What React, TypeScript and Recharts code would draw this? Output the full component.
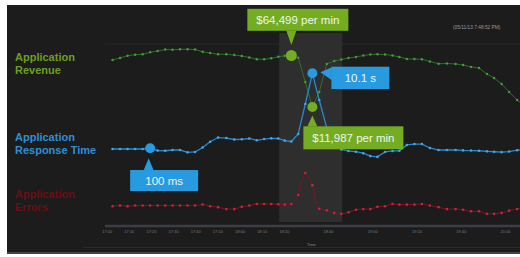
import React from 'react';
import { ComposedChart, Line, Area, XAxis, YAxis, CartesianGrid, ReferenceArea, ReferenceDot } from 'recharts';

// sample times, minutes after 17:00
const minutes = [2.4, 5.8, 9.2, 12.6, 16.0, 19.4, 22.8, 26.2, 29.5, 32.9, 36.3, 39.7, 43.1, 46.5, 50.1, 53.8, 57.4, 60.8, 64.2, 67.6, 70.9, 74.1, 77.3, 80.2, 83.2, 86.3, 89.5, 92.7, 95.8, 99.2, 102.6, 105.8, 109.0, 112.4, 115.7, 118.9, 122.1, 125.5, 128.9, 132.0, 135.4, 138.8, 142.2, 145.8, 149.7, 153.5, 157.4, 160.8, 164.4, 168.0, 171.6, 174.8, 178.2, 181.6, 185.2, 188.6];

// $ per min
const revenue = [62050, 64180, 66630, 67690, 68120, 70250, 71630, 73230, 72910, 73440, 73440, 73230, 70780, 69500, 68120, 68120, 67370, 66310, 64710, 62900, 62800, 63860, 65460, 66520, 66840, 64499, 38620, 11987, 27970, 57790, 60980, 62580, 64180, 65250, 66840, 67910, 68120, 67910, 66840, 65250, 63120, 63120, 62800, 60450, 58110, 58320, 57790, 56730, 54600, 53530, 47140, 42880, 36490, 27970, 19450, 13060];

// ms
const responseTime = [96, 96, 96, 96, 96, 100, 87, 86, 90, 90, 78, 80, 105, 150, 194, 188, 172, 174, 183, 164, 177, 185, 183, 160, 152, 241, 1528, 10100, 1954, 349, 115, 93, 85, 81, 74, 62, 59, 80, 85, 86, 123, 130, 130, 102, 90, 90, 90, 88, 87, 86, 83, 81, 79, 82, 89, 93];

// errors per min
const errors = [6.2, 6.4, 6.2, 6.4, 6.4, 6.4, 6.4, 6.4, 6.4, 6.4, 6.4, 6.4, 6.7, 6.2, 5.9, 5.3, 5.3, 6.0, 6.4, 6.9, 6.9, 6.9, 6.8, 6.7, 6.9, 9.7, 16.6, 12.8, 5.4, 4.9, 4.1, 3.8, 4.3, 5.1, 5.3, 5.3, 6.0, 6.2, 6.9, 6.7, 6.7, 6.7, 6.9, 6.4, 5.9, 5.3, 5.3, 5.1, 4.6, 4.6, 3.8, 3.8, 4.1, 4.8, 5.3, 5.8];

const timeTicks = [0, 10, 20, 30, 40, 50, 60, 70, 80, 90, 100, 110, 120, 130, 140, 150, 160, 170, 180];
const incidentWindow = [77.7, 106.2];

const data = minutes.map((t, i) => ({
  t,
  revenue: revenue[i],
  response: responseTime[i],
  errors: errors[i],
}));

// shaded window inside the plot (grid units 0..5)
const bandData = incidentWindow.map((t) => ({ t, band: [0.11, 5] }));

const GREEN = '#74ad22';
const BLUE = '#279ae0';
const BAND = '#2e2e2e';
const FONT = '"Liberation Sans", Arial, sans-serif';

const fmtTime = (m: number) => {
  const h = 17 + Math.floor(m / 60);
  const mm = m % 60;
  return `${h}:${mm < 10 ? '0' : ''}${mm}`;
};

type Callout = {
  text: string;
  fill: string;
  r: number;
  box: [number, number, number, number];
  pointer: [number, number][];
  textAt: [number, number];
};

const calloutShape = (c: Callout) => (p: any) => {
  const { cx, cy } = p;
  return (
    <g>
      <polygon points={c.pointer.map(([dx, dy]) => `${cx + dx},${cy + dy}`).join(' ')} fill={c.fill} />
      <rect x={cx + c.box[0]} y={cy + c.box[1]} width={c.box[2]} height={c.box[3]} fill={c.fill} />
      <circle cx={cx} cy={cy} r={c.r} fill={c.fill} />
      <text
        x={cx + c.textAt[0]}
        y={cy + c.textAt[1]}
        textAnchor="middle"
        dominantBaseline="central"
        fontFamily={FONT}
        fontSize={11.5}
        fill="#eef5f0"
      >
        {c.text}
      </text>
    </g>
  );
};

const TimeTick = (p: any) => (
  <text x={p.x} y={p.y + 3.5} textAnchor="middle" fontSize={4} fontFamily={FONT} fill="#7a7a7a">
    {fmtTime(p.payload.value)}
  </text>
);

const sideLabel = (top: number, color: string, lines: string[]) => (
  <div
    style={{
      position: 'absolute',
      left: 15,
      top,
      color,
      fontFamily: FONT,
      fontWeight: 700,
      fontSize: 11,
      lineHeight: '13px',
    }}
  >
    {lines.map((l) => (
      <div key={l}>{l}</div>
    ))}
  </div>
);

export default function App() {
  const hi = revenue.indexOf(Math.max(...revenue.slice(20, 30)));
  const lo = revenue.indexOf(Math.min(...revenue.slice(20, 30)));
  const peak = responseTime.indexOf(Math.max(...responseTime));

  return (
    <div style={{ position: 'fixed', left: 0, top: 0, width: 520, height: 257, background: '#fff', overflow: 'hidden' }}>
      <div
        style={{
          position: 'absolute',
          left: 7,
          top: 5,
          width: 513,
          height: 247,
          background: '#1c1c1c',
          borderBottom: '2px solid #444',
        }}
      />
      <div style={{ position: 'absolute', left: 83, top: 247, width: 437, height: 1, background: '#2a2a2a' }} />
      <div
        style={{
          position: 'absolute',
          left: 453,
          top: 25,
          fontSize: 4.8,
          fontFamily: FONT,
          color: '#9a9a9a',
          whiteSpace: 'nowrap',
        }}
      >
        (05/11/13 7:48:52 PM)
      </div>
      <div style={{ position: 'absolute', left: 307, top: 241.5, fontSize: 4, fontFamily: FONT, color: '#8a8a8a' }}>
        Time
      </div>
      {sideLabel(51, '#6d9f1e', ['Application', 'Revenue'])}
      {sideLabel(131, '#2f8fd6', ['Application', 'Response Time'])}
      {sideLabel(188, '#6a0f14', ['Application', 'Errors'])}

      <div style={{ position: 'absolute', left: 0, top: 0 }}>
        <ComposedChart width={541} height={257} data={data} margin={{ top: 44, right: 0, bottom: 19, left: 105 }}>
          <XAxis
            dataKey="t"
            type="number"
            domain={[-1, 196]}
            ticks={timeTicks}
            tick={<TimeTick />}
            tickLine={false}
            tickSize={3}
            tickMargin={0}
            height={12}
            axisLine={{ stroke: '#3b3f43', strokeWidth: 2.5 }}
          />
          <YAxis yAxisId="grid" domain={[0, 5]} ticks={[0, 1, 2, 3, 4, 5]} width={0} tick={false} tickLine={false} axisLine={{ stroke: '#333' }} allowDataOverflow />
          <YAxis yAxisId="rev" hide domain={[-114740, 79090]} allowDataOverflow />
          <YAxis yAxisId="resp" hide scale="log" domain={[0.84, 61240]} allowDataOverflow />
          <YAxis yAxisId="err" hide domain={[0, 57]} allowDataOverflow />
          <CartesianGrid yAxisId="grid" vertical={false} stroke="#282828" />
          <Area
            yAxisId="grid"
            data={bandData}
            dataKey="band"
            type="linear"
            stroke="none"
            fill={BAND}
            fillOpacity={1}
            dot={false}
            activeDot={false}
            isAnimationActive={false}
          />
          {/* the window reaches a little above the plot top */}
          <ReferenceArea
            yAxisId="rev"
            x1={incidentWindow[0]}
            x2={incidentWindow[1]}
            y1={79090}
            y2={90800}
            ifOverflow="visible"
            fill={BAND}
            fillOpacity={1}
            stroke="none"
          />
          <Line
            yAxisId="rev"
            dataKey="revenue"
            type="linear"
            stroke="#2e6f2a"
            strokeWidth={1}
            dot={{ r: 1.2, fill: '#41a03c', stroke: 'none' }}
            activeDot={false}
            isAnimationActive={false}
          />
          <Line
            yAxisId="resp"
            dataKey="response"
            type="linear"
            stroke="#2a88cc"
            strokeWidth={1.3}
            dot={{ r: 1.3, fill: '#3ea6ec', stroke: 'none' }}
            activeDot={false}
            isAnimationActive={false}
          />
          <Line
            yAxisId="err"
            dataKey="errors"
            type="monotone"
            stroke="#7e1420"
            strokeWidth={1}
            dot={{ r: 1.3, fill: '#d41f38', stroke: 'none' }}
            activeDot={false}
            isAnimationActive={false}
          />
          <ReferenceDot
            yAxisId="resp"
            x={minutes[5]}
            y={responseTime[5]}
            shape={calloutShape({
              text: '100 ms',
              fill: BLUE,
              r: 5,
              box: [-20, 21.7, 68, 21],
              pointer: [[-6.5, 22], [3.5, 22], [-1.5, 10]],
              textAt: [14, 32.2],
            })}
          />
          <ReferenceDot
            yAxisId="rev"
            x={minutes[lo]}
            y={revenue[lo]}
            shape={calloutShape({
              text: '$11,987 per min',
              fill: GREEN,
              r: 5,
              box: [-9, 19.3, 100, 23],
              pointer: [[-5, 19.5], [5, 19.5], [0, 8.5]],
              textAt: [41, 30.8],
            })}
          />
          <ReferenceDot
            yAxisId="resp"
            x={minutes[peak]}
            y={responseTime[peak]}
            shape={calloutShape({
              text: '10.1 s',
              fill: BLUE,
              r: 5,
              box: [19, -6.6, 58, 22.3],
              pointer: [[8, -1], [19.5, -6], [19.5, 7]],
              textAt: [48, 4.7],
            })}
          />
          <ReferenceDot
            yAxisId="rev"
            x={minutes[hi]}
            y={revenue[hi]}
            shape={calloutShape({
              text: '$64,499 per min',
              fill: GREEN,
              r: 5.5,
              box: [-44, -46.7, 101, 22],
              pointer: [[-5, -24.7], [5, -24.7], [0, -10.5]],
              textAt: [6.5, -35.7],
            })}
          />
        </ComposedChart>
      </div>
    </div>
  );
}
